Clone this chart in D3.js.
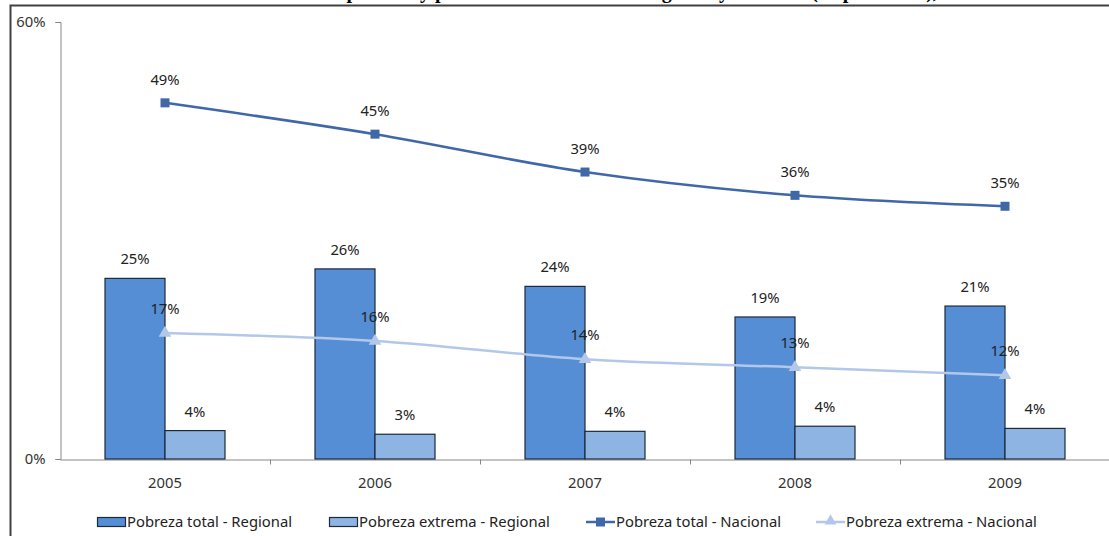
<!DOCTYPE html>
<html>
<head>
<meta charset="utf-8">
<script src="https://cdn.jsdelivr.net/npm/d3@7"></script>
<style>
  body { margin: 0; background: #fff; }
  svg { display: block; }
</style>
</head>
<body>
<div id="chart"></div>
<script>
const years = ["2005", "2006", "2007", "2008", "2009"];
const totalRegional = [24.8, 26.1, 23.7, 19.5, 21.0];
const extremaRegional = [3.9, 3.4, 3.8, 4.5, 4.2];
const totalNacional = [48.9, 44.6, 39.4, 36.2, 34.7];
const extremaNacional = [17.3, 16.2, 13.7, 12.6, 11.5];
const labelsTotalRegional = ["25%", "26%", "24%", "19%", "21%"];
const labelsExtremaRegional = ["4%", "3%", "4%", "4%", "4%"];
const labelsTotalNacional = ["49%", "45%", "39%", "36%", "35%"];
const labelsExtremaNacional = ["17%", "16%", "14%", "13%", "12%"];
const yTicks = [0, 60];

const width = 1109, height = 536;
const font = "'Noto Sans', sans-serif";
const fs = 14.8;
const darkBar = "#558ed5", lightBar = "#8eb4e3";
const darkLine = "#4068a8", lightLine = "#b3c8e8";

const svg = d3.select("#chart").append("svg")
  .attr("width", width)
  .attr("height", height)
  .attr("font-family", font);

// title, cut off at the top of the picture (only descenders show)
svg.append("text")
  .attr("x", 620)
  .attr("y", -2.5)
  .attr("text-anchor", "middle")
  .attr("font-family", "'Liberation Serif', serif")
  .attr("font-weight", "bold")
  .attr("font-size", 20)
  .text("Evolución de la pobreza y pobreza extrema a nivel regional y nacional (% población), 2005-2009");

// outer frame
svg.append("path")
  .attr("d", `M10.5,${height} V5.5 H${width}`)
  .attr("fill", "none")
  .attr("stroke", "#404040")
  .attr("stroke-width", 2);

const x = d3.scaleBand().domain(years).range([60, 1110]);
const y = d3.scaleLinear().domain([0, 60]).range([459, 22]);
const barW = 60;

// axes
const yAxis = svg.append("g")
  .attr("transform", "translate(60.5,0)")
  .call(d3.axisLeft(y).tickValues(yTicks).tickSize(5).tickFormat(d => d + "%"));
yAxis.select(".domain").attr("stroke", "#868686");
yAxis.selectAll(".tick line").attr("stroke", "#868686");
yAxis.selectAll(".tick text")
  .attr("font-family", font).attr("font-size", fs).attr("fill", "#333")
  .attr("x", -15);

const xAxis = svg.append("g")
  .attr("transform", "translate(0,459.5)")
  .call(d3.axisBottom(x).tickSize(0).tickFormat(d => d));
xAxis.select(".domain").attr("stroke", "#868686");
xAxis.selectAll(".tick text")
  .attr("font-family", font).attr("font-size", fs).attr("fill", "#333")
  .attr("dy", "1.75em");
// category separator ticks
xAxis.selectAll(".sep")
  .data(years.slice(1))
  .join("line")
  .attr("x1", d => Math.round(x(d)) + 0.5)
  .attr("x2", d => Math.round(x(d)) + 0.5)
  .attr("y1", 0).attr("y2", 5)
  .attr("stroke", "#868686");

// bars
const cx = d => x(d) + x.bandwidth() / 2;

svg.append("g").selectAll("rect")
  .data(years)
  .join("rect")
  .attr("x", d => cx(d) - barW)
  .attr("y", (d, i) => y(totalRegional[i]))
  .attr("width", barW)
  .attr("height", (d, i) => y(0) - y(totalRegional[i]))
  .attr("fill", darkBar)
  .attr("stroke", "#1c2a3a")
  .attr("stroke-width", 1.2);

svg.append("g").selectAll("rect")
  .data(years)
  .join("rect")
  .attr("x", d => cx(d))
  .attr("y", (d, i) => y(extremaRegional[i]))
  .attr("width", barW)
  .attr("height", (d, i) => y(0) - y(extremaRegional[i]))
  .attr("fill", lightBar)
  .attr("stroke", "#1c2a3a")
  .attr("stroke-width", 1.2);

// lines
const line = d3.line()
  .x((d, i) => cx(years[i]))
  .y(d => y(d))
  .curve(d3.curveCatmullRom.alpha(0.5));

svg.append("path")
  .attr("d", line(extremaNacional))
  .attr("fill", "none")
  .attr("stroke", lightLine)
  .attr("stroke-width", 2.5);

svg.append("g").selectAll("path")
  .data(extremaNacional)
  .join("path")
  .attr("transform", (d, i) => `translate(${cx(years[i])},${y(d)})`)
  .attr("d", d3.symbol(d3.symbolTriangle, 70))
  .attr("fill", lightLine);

svg.append("path")
  .attr("d", line(totalNacional))
  .attr("fill", "none")
  .attr("stroke", darkLine)
  .attr("stroke-width", 2.5);

svg.append("g").selectAll("rect")
  .data(totalNacional)
  .join("rect")
  .attr("x", (d, i) => cx(years[i]) - 4.5)
  .attr("y", d => y(d) - 4.5)
  .attr("width", 9)
  .attr("height", 9)
  .attr("fill", darkLine);

// data labels
function labels(values, texts, dx, dy) {
  svg.append("g").selectAll("text")
    .data(values)
    .join("text")
    .attr("x", (d, i) => cx(years[i]) + dx)
    .attr("y", d => y(d) + dy)
    .attr("text-anchor", "middle")
    .attr("font-size", fs)
    .attr("fill", "#222")
    .text((d, i) => texts[i]);
}
labels(totalRegional, labelsTotalRegional, -30, -14);
labels(extremaRegional, labelsExtremaRegional, 30, -14);
labels(totalNacional, labelsTotalNacional, 0, -18);
labels(extremaNacional, labelsExtremaNacional, 0, -19);

// legend
const legend = svg.append("g").attr("font-size", fs).attr("fill", "#222");
const legendItems = [
  { name: "Pobreza total - Regional", type: "bar", color: darkBar, x: 97 },
  { name: "Pobreza extrema - Regional", type: "bar", color: lightBar, x: 329 },
  { name: "Pobreza total - Nacional", type: "square", color: darkLine, x: 586 },
  { name: "Pobreza extrema - Nacional", type: "triangle", color: lightLine, x: 816 }
];
const ly = 522;
legendItems.forEach(it => {
  const g = legend.append("g").attr("transform", `translate(${it.x},${ly})`);
  if (it.type === "bar") {
    g.append("rect")
      .attr("x", 0.5).attr("y", -4.5)
      .attr("width", 28).attr("height", 9)
      .attr("fill", it.color)
      .attr("stroke", "#1c2a3a")
      .attr("stroke-width", 1.2);
  } else {
    g.append("line")
      .attr("x1", 0).attr("x2", 29)
      .attr("y1", 0).attr("y2", 0)
      .attr("stroke", it.color).attr("stroke-width", 2.5);
    if (it.type === "square") {
      g.append("rect")
        .attr("x", 10).attr("y", -4.5)
        .attr("width", 9).attr("height", 9)
        .attr("fill", it.color);
    } else {
      g.append("path")
        .attr("transform", "translate(14.5,-1)")
        .attr("d", d3.symbol(d3.symbolTriangle, 60))
        .attr("fill", it.color);
    }
  }
  g.append("text")
    .attr("x", 30)
    .attr("dy", "0.35em")
    .text(it.name);
});
</script>
</body>
</html>
